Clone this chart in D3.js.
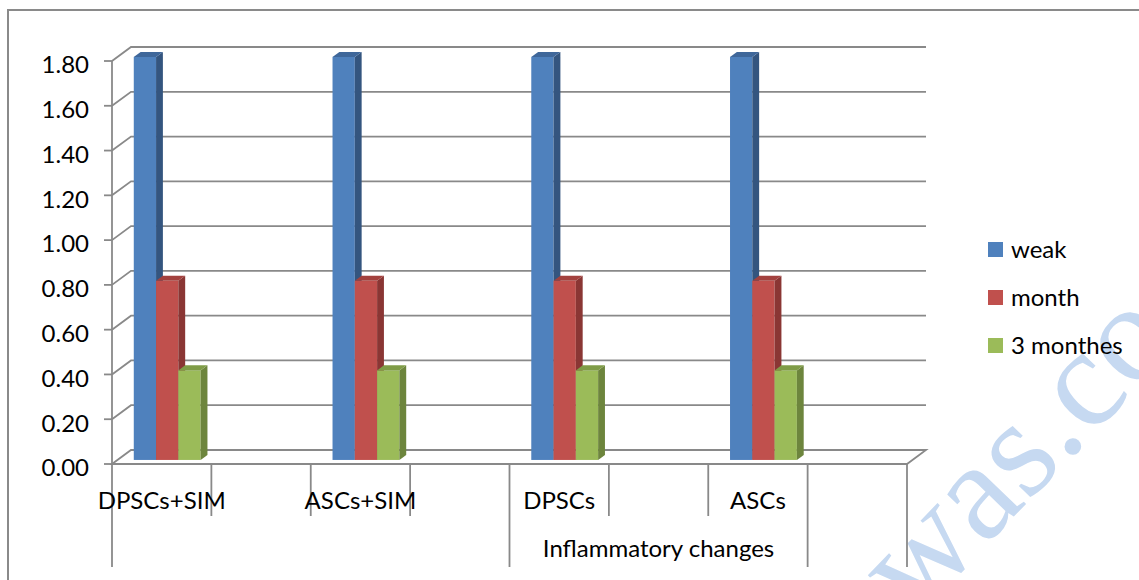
<!DOCTYPE html>
<html>
<head>
<meta charset="utf-8">
<script src="https://cdn.jsdelivr.net/npm/d3@7"></script>
<style>
  body { margin: 0; background: #fff; }
  svg { display: block; }
  text { font-family: Lato, "Open Sans", sans-serif; fill: #000; }
</style>
</head>
<body>
<svg id="chart" width="1139" height="580"></svg>
<script>
// Category slots (every other slot is left empty, as in the source sheet)
const categories = ["DPSCs+SIM", "", "ASCs+SIM", "", "DPSCs", "", "ASCs", ""];
// Outer category level: label and how many slots it spans
const groupLabels = ["", "Inflammatory changes", ""];
const groupSizes = [4, 3, 1];

const seriesNames = ["weak", "month", "3 monthes"];
const weak       = [1.80, null, 1.80, null, 1.80, null, 1.80, null];
const month      = [0.80, null, 0.80, null, 0.80, null, 0.80, null];
const threeMonth = [0.40, null, 0.40, null, 0.40, null, 0.40, null];

const yTicks = [0.00, 0.20, 0.40, 0.60, 0.80, 1.00, 1.20, 1.40, 1.60, 1.80];

const frontColors = ["#4f81bd", "#c0504d", "#9bbb59"];
const sideColors  = ["#34557f", "#8a3634", "#6d853d"];
const topColors   = ["#3f679a", "#a3413e", "#7f9c47"];
const gridColor = "#898989";

const svg = d3.select("#chart");
svg.append("rect").attr("width", 1139).attr("height", 580).attr("fill", "#fff");

// Faint site watermark, kept behind everything else
svg.append("text")
  .attr("transform", "translate(914,620) rotate(-46)")
  .style("font-family", "'Liberation Serif', 'DejaVu Serif', serif")
  .style("fill", "#c6d9f1")
  .attr("font-size", 140)
  .text("was.co");

// Plot frame (front plane) and perspective depth offset
const plotLeft = 112, plotRight = 907;
const depth = { dx: 19, dy: -14 };
const barFront = 0.29, barBack = 0.65;

const x = d3.scaleBand().domain(d3.range(categories.length)).range([plotLeft, plotRight]);
const xs = d3.scaleBand().domain(seriesNames).range([0, x.bandwidth()]).paddingOuter(0.73);
const y = d3.scaleLinear().domain([0, 1.8]).range([464, 61]);

// Outer border of the chart area
svg.append("path")
  .attr("d", "M8,580 V10 H1139")
  .attr("fill", "none").attr("stroke", "#8a8a8a").attr("stroke-width", 2);

// Side wall diagonals + back wall gridlines
const grid = svg.append("g").attr("fill", "none").attr("stroke", gridColor).attr("stroke-width", 1.8);
yTicks.filter(t => t > 0).forEach(t => {
  const yy = y(t);
  grid.append("path")
    .attr("d", `M${plotLeft},${yy} L${plotLeft + depth.dx},${yy + depth.dy} L${plotRight + depth.dx},${yy + depth.dy}`);
});

// Floor
const y0 = y(0);
svg.append("path")
  .attr("d", `M${plotLeft},${y0} L${plotLeft + depth.dx},${y0 + depth.dy} L${plotRight + depth.dx},${y0 + depth.dy} L${plotRight},${y0} Z`)
  .attr("fill", "#fff").attr("stroke", gridColor).attr("stroke-width", 1.8);

// Value axis
const yAxis = svg.append("g").attr("stroke", gridColor).attr("stroke-width", 1.8).attr("fill", "none");
yAxis.append("path").attr("d", `M${plotLeft},${y(1.8)} V${y0}`);
yTicks.forEach(t => {
  yAxis.append("path").attr("d", `M${plotLeft - 8},${y(t)} H${plotLeft}`);
});
svg.append("g").selectAll("text").data(yTicks).join("text")
  .attr("x", 89).attr("y", d => y(d) + 12.3)
  .attr("text-anchor", "end")
  .attr("font-size", 24)
  .text(d => d3.format(".2f")(d));

// Bars (3D columns)
const series = [weak, month, threeMonth];
const fx = barFront * depth.dx, fy = barFront * depth.dy;
const ddx = (barBack - barFront) * depth.dx, ddy = (barBack - barFront) * depth.dy;
const bars = svg.append("g");
categories.forEach((c, i) => {
  series.forEach((vals, s) => {
    const v = vals[i];
    if (v == null) return;
    const bx = x(i) + xs(seriesNames[s]) + fx;
    const bw = xs.bandwidth();
    const yt = y(v) + fy, yb = y(0) + fy;
    const g = bars.append("g");
    g.append("rect").attr("x", bx).attr("y", yt).attr("width", bw).attr("height", yb - yt)
      .attr("fill", frontColors[s]);
    g.append("path")
      .attr("d", `M${bx + bw},${yt} L${bx + bw + ddx},${yt + ddy} L${bx + bw + ddx},${yb + ddy} L${bx + bw},${yb} Z`)
      .attr("fill", sideColors[s]);
    g.append("path")
      .attr("d", `M${bx},${yt} L${bx + ddx},${yt + ddy} L${bx + bw + ddx},${yt + ddy} L${bx + bw},${yt} Z`)
      .attr("fill", topColors[s]);
  });
});

// Category axis: tick marks between slots, longer at outer-group boundaries
const groupEdges = Array.from(d3.cumsum([0, ...groupSizes]));
const catAxis = svg.append("g").attr("stroke", gridColor).attr("stroke-width", 1.8).attr("fill", "none");
d3.range(categories.length + 1).forEach(k => {
  const xx = k < categories.length ? x(k) : plotRight;
  const long = groupEdges.includes(k);
  catAxis.append("path").attr("d", `M${xx},${y0} V${long ? 567 : 516}`);
});
svg.append("g").selectAll("text").data(categories).join("text")
  .attr("x", (d, i) => x(i) + x.bandwidth() / 2)
  .attr("y", 509)
  .attr("text-anchor", "middle")
  .attr("font-size", 24)
  .text(d => d);
svg.append("g").selectAll("text").data(groupLabels).join("text")
  .attr("x", (d, i) => {
    const a = x(groupEdges[i]);
    const bIdx = groupEdges[i + 1];
    const b = bIdx < categories.length ? x(bIdx) : plotRight;
    return (a + b) / 2;
  })
  .attr("y", 557)
  .attr("text-anchor", "middle")
  .attr("font-size", 24)
  .text(d => d);

// Legend
const legend = svg.append("g").attr("transform", "translate(988,0)");
seriesNames.forEach((name, s) => {
  const base = 258 + s * 48;
  legend.append("rect").attr("x", 0).attr("y", base - 16).attr("width", 15).attr("height", 15)
    .attr("fill", frontColors[s]);
  legend.append("text").attr("x", 23).attr("y", base).attr("font-size", 24).text(name);
});
</script>
</body>
</html>
